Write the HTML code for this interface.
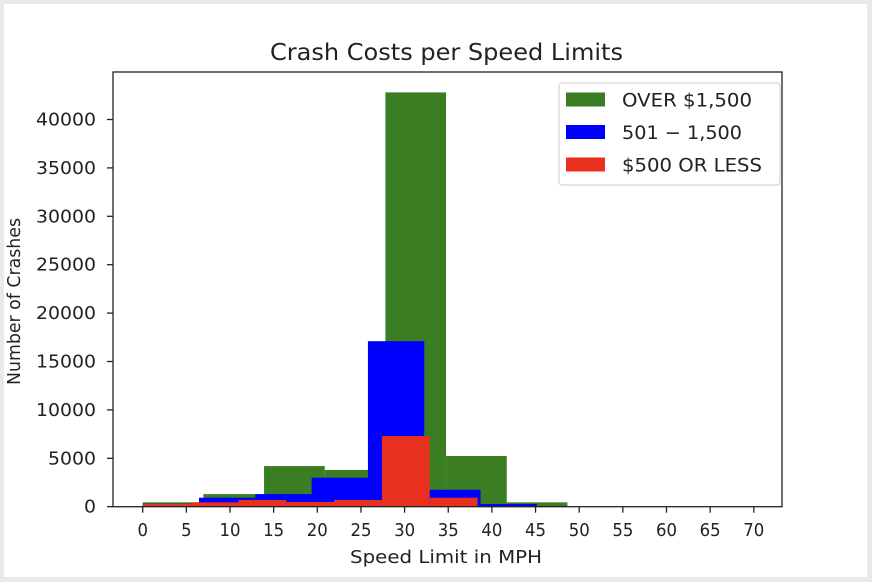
<!DOCTYPE html>
<html><head><meta charset="utf-8"><style>
html,body{margin:0;padding:0;background:#e9e9e9;}
svg{display:block;font-family:"DejaVu Sans","Liberation Sans",sans-serif;}
</style></head><body>
<svg id="chart" width="872" height="582">
<rect x="4" y="4" width="863" height="573" fill="#fff"/>
<g id="bars"></g>
<g id="axes"></g>
</svg>
<script>
const yTicks=[0,5000,10000,15000,20000,25000,30000,35000,40000];
const xTicks=[0,5,10,15,20,25,30,35,40,45,50,55,60,65,70];
const greenEdges=[0,6.95,13.9,20.85,27.8,34.75,41.7,48.65];
const greenVals=[450,1300,4200,3800,42800,5240,450];
const blueEdges=[0,6.45,12.9,19.35,25.8,32.25,38.7,45.15];
const blueVals=[300,930,1300,3000,17100,1750,280];
const redEdges=[0,5.48,10.96,16.44,21.92,27.4,32.88,38.36];
const redVals=[280,450,690,490,690,7300,930];
const seriesNames=["OVER $1,500","501 \u2212 1,500","$500 OR LESS"];
const L=113,R=782,T=72,B=506.7;
const sx=v=>142.7+v*8.73;
const sy=v=>B-v*48.4/5000;
const NS="http://www.w3.org/2000/svg";
const bars=document.getElementById('bars'),axes=document.getElementById('axes');
function mk(tag,attrs,parent){const e=document.createElementNS(NS,tag);for(const k in attrs)e.setAttribute(k,attrs[k]);parent.appendChild(e);return e;}
function drawSeries(edges,vals,color,nm){
  vals.forEach((v,i)=>{
    const r=mk('rect',{x:sx(edges[i]),y:sy(v),width:sx(edges[i+1])-sx(edges[i]),height:B-sy(v),fill:color},bars);
    
    
  });
}
drawSeries(greenEdges,greenVals,'#3a7d23','over-1500');
drawSeries(blueEdges,blueVals,'#0000ff','501-1500');
drawSeries(redEdges,redVals,'#e8301f','500-or-less');
const frame=mk('rect',{x:L,y:T,width:R-L,height:B-T,fill:'none',stroke:'#222','stroke-width':1.3},axes);


yTicks.forEach(v=>{
  const y=sy(v);
  mk('line',{x1:L-6,x2:L,y1:y,y2:y,stroke:'#222','stroke-width':1.3},axes);
  const s=String(v);
  const t=mk('text',{x:96,y:y+6,'text-anchor':'end','font-size':18,fill:'#222',textLength:s.length*12,lengthAdjust:'spacingAndGlyphs'},axes);
  t.textContent=s;
  
  
});
xTicks.forEach(v=>{
  const x=sx(v);
  mk('line',{x1:x,x2:x,y1:B,y2:B+6,stroke:'#222','stroke-width':1.3},axes);
  const s=String(v);
  const t=mk('text',{x:x,y:536,'text-anchor':'middle','font-size':18,fill:'#222',textLength:s.length*10.5,lengthAdjust:'spacingAndGlyphs'},axes);
  t.textContent=s;
  
  
});
const title=mk('text',{x:270,y:60,'font-size':23,fill:'#222',textLength:353,lengthAdjust:'spacingAndGlyphs'},axes);
title.textContent='Crash Costs per Speed Limits';


const xl=mk('text',{x:350,y:563,'font-size':18,fill:'#222',textLength:192,lengthAdjust:'spacingAndGlyphs'},axes);
xl.textContent='Speed Limit in MPH';


const yl=mk('text',{x:-385,y:20,'font-size':18,fill:'#222',transform:'rotate(-90)',textLength:167,lengthAdjust:'spacingAndGlyphs'},axes);
yl.textContent='Number of Crashes';


const lg=mk('g',{},axes);


mk('rect',{x:559,y:83,width:221,height:102,rx:3,fill:'#fff',stroke:'#ccc'},lg);
const colors=['#3a7d23','#0000ff','#e8301f'];
const legendW=[130,120,140];
seriesNames.forEach((n,i)=>{
  const y=99.5+i*32.5;
  const p=mk('rect',{x:566,y:y-7,width:39,height:14,fill:colors[i]},lg);
  
  
  const t=mk('text',{x:622,y:y+7,'font-size':19,fill:'#222',textLength:legendW[i],lengthAdjust:'spacingAndGlyphs'},lg);
  t.textContent=n;
  
  
});
</script>
</body></html>
